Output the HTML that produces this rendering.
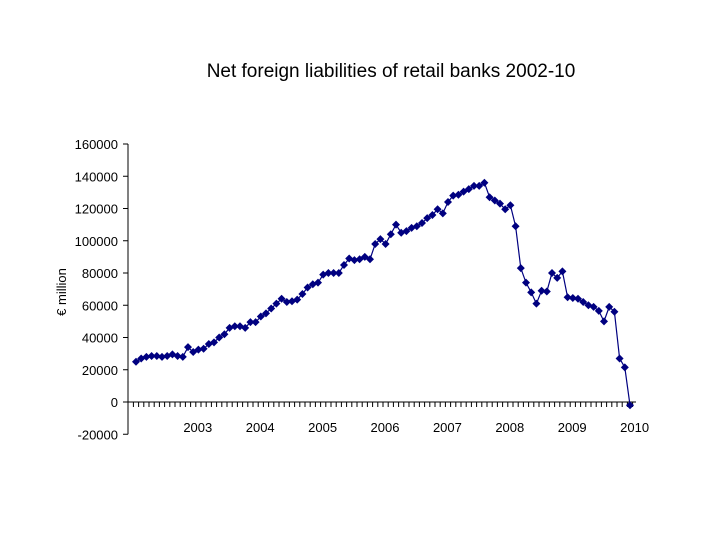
<!DOCTYPE html>
<html><head><meta charset="utf-8"><style>
body{margin:0;background:#fff;font-family:"Liberation Sans",sans-serif}
svg{display:block}
</style></head><body>
<svg width="720" height="540">
<text x="391" y="77" text-anchor="middle" font-size="19">Net foreign liabilities of retail banks 2002-10</text>
<g id="axes"></g>
<g id="series"></g>
</svg>
<script>
const values=[25,27,28,28.5,28.5,28,28.5,29.5,28.5,28,34,31,
32.5,33,36,37,40,42,46,47,47,46,49.5,49.5,
53,55,58,61,64,62,62.5,63.5,67,71,73,74,
79,80,80,80,85,89,88,88.5,90,88.5,98,101,
98,104,110,105,106,108,109,111,114,116,119.5,117,
124,128,128.5,130.5,132,134,134,136,127,125,123,119.5,
122,109,83,74,68,61,69,68.5,80,77,81,65,
64.5,64,62,60,59,56.5,50,59,56,27,21.5,-2];
const yTicks=[-20000,0,20000,40000,60000,80000,100000,120000,140000,160000];
const years=["2003","2004","2005","2006","2007","2008","2009","2010"];
const NS="http://www.w3.org/2000/svg";
const y=v=>402-v*1.6125/1000;
const x=i=>136+i*5.2;
function mk(t,a,p){const e=document.createElementNS(NS,t);for(const k in a)e.setAttribute(k,a[k]);p.appendChild(e);return e;}
const ax=document.getElementById('axes'),se=document.getElementById('series');
let yl=mk('line',{x1:128,x2:128,y1:y(160000),y2:y(-20000),stroke:'#000'},ax);


yTicks.forEach(t=>{
 mk('line',{x1:123,x2:128,y1:y(t),y2:y(t),stroke:'#000'},ax);
 const tx=mk('text',{x:118,y:y(t)+5,'text-anchor':'end','font-size':13},ax);
 tx.textContent=t;
 
 
});
let xl=mk('line',{x1:128,x2:636,y1:y(0),y2:y(0),stroke:'#000'},ax);


for(let i=0;i<=96;i++){mk('line',{x1:x(i)-2.6,x2:x(i)-2.6,y1:y(0),y2:y(0)+5,stroke:'#000'},ax);}
years.forEach((yr,k)=>{
 const tx=mk('text',{x:x(12*(k+1))-2.6+2,y:432,'text-anchor':'middle','font-size':13},ax);
 tx.textContent=yr;
 
 
});
const yt=mk('text',{x:0,y:0,'font-size':13,'text-anchor':'middle',transform:'translate(66,292) rotate(-90)'},ax);
yt.textContent='€ million';


const pl=mk('polyline',{points:values.map((v,i)=>x(i)+','+y(v*1000)).join(' '),fill:'none',stroke:'#000080','stroke-width':1.2},se);


values.forEach((v,i)=>{
 const cx=x(i),cy=y(v*1000);
 const p=mk('polygon',{points:`${cx},${cy-4} ${cx+4},${cy} ${cx},${cy+4} ${cx-4},${cy}`,fill:'#000080'},se);
 
 
});
</script>
</body></html>
